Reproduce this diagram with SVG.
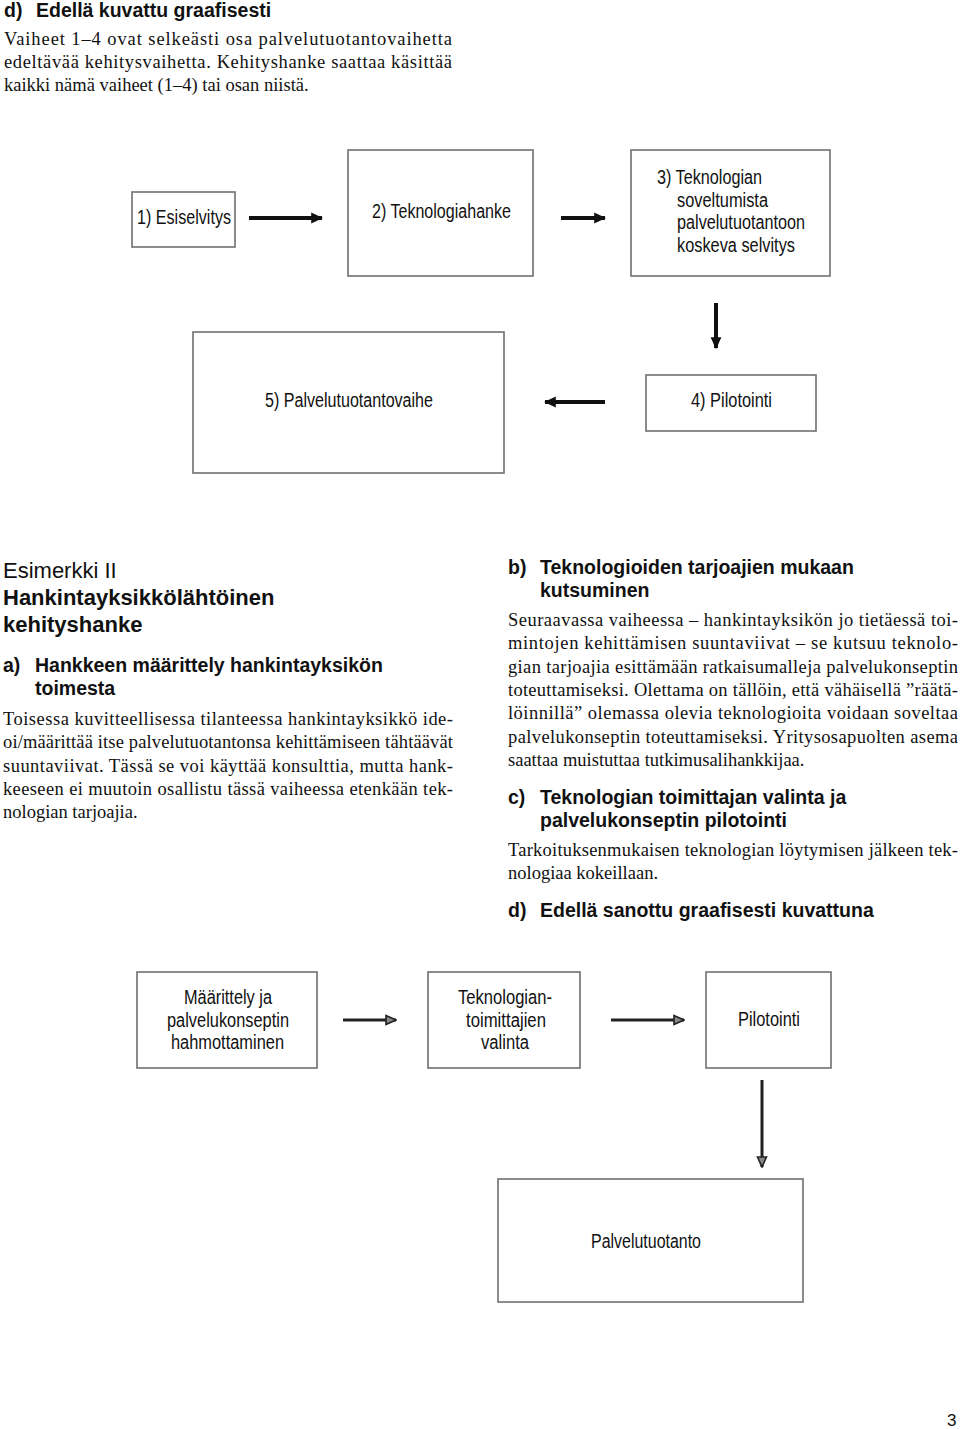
<svg xmlns="http://www.w3.org/2000/svg" width="960" height="1429" viewBox="0 0 960 1429">
<style>
.bg{fill:#fff}
.h{font-family:"Liberation Sans",Arial,sans-serif;font-weight:bold;font-size:19.5px;fill:#111}
.h2{font-family:"Liberation Sans",Arial,sans-serif;font-weight:bold;font-size:22px;fill:#111}
.h2r{font-family:"Liberation Sans",Arial,sans-serif;font-size:22px;fill:#111}
.b{font-family:"Liberation Serif","Times New Roman",serif;font-size:18.5px;fill:#111}
.lbl{font-family:"Liberation Sans Narrow","Liberation Sans",Arial,sans-serif;font-size:19.5px;fill:#111}
.box{fill:#fff;stroke:#707070;stroke-width:1.6}
.ln{stroke:#111;stroke-width:4;fill:none}
.ln2{stroke:#222;stroke-width:3;fill:none}
.pg{font-family:"Liberation Sans",Arial,sans-serif;font-size:17px;fill:#111}
</style>
<defs>
<marker id="ah" viewBox="0 0 10 10" refX="9" refY="5" markerWidth="3" markerHeight="3" orient="auto" markerUnits="strokeWidth">
<path d="M0,0.5 L10,5 L0,9.5 Z" fill="#111"/>
</marker>
<marker id="ah2" viewBox="0 0 12 12" refX="11" refY="6" markerWidth="4" markerHeight="4" orient="auto" markerUnits="strokeWidth">
<path d="M1,1.5 L11,6 L1,10.5 Z" fill="#888" stroke="#222" stroke-width="1.6"/>
</marker>
</defs>
<rect class="bg" x="0" y="0" width="960" height="1429"/>

<g id="intro">
<text class="h" x="4" y="17">d)</text>
<text class="h" x="36" y="17">Edellä kuvattu graafisesti</text>
<text class="b" x="4" y="45" textLength="448" lengthAdjust="spacing">Vaiheet 1–4 ovat selkeästi osa palvelutuotantovaihetta</text>
<text class="b" x="4" y="68" textLength="448" lengthAdjust="spacing">edeltävää kehitysvaihetta. Kehityshanke saattaa käsittää</text>
<text class="b" x="4" y="91">kaikki nämä vaiheet (1–4) tai osan niistä.</text>
</g>

<g id="connectors-top">
<line class="ln" x1="249" y1="218" x2="322" y2="218" marker-end="url(#ah)"/>
<line class="ln" x1="561" y1="218" x2="605" y2="218" marker-end="url(#ah)"/>
<line class="ln" x1="716" y1="303" x2="716" y2="348" stroke-width="3.5" marker-end="url(#ah)"/>
<line class="ln" x1="605" y1="402" x2="545" y2="402" marker-end="url(#ah)"/>
</g>

<g id="n1">
<rect class="box" x="132" y="192" width="103" height="55"/>
<text class="lbl" x="137" y="224" textLength="94" lengthAdjust="spacingAndGlyphs">1) Esiselvitys</text>
</g>
<g id="n2">
<rect class="box" x="348" y="150" width="185" height="126"/>
<text class="lbl" x="372" y="218" textLength="139" lengthAdjust="spacingAndGlyphs">2) Teknologiahanke</text>
</g>
<g id="n3">
<rect class="box" x="631" y="150" width="199" height="126"/>
<text class="lbl" x="657" y="184" textLength="105" lengthAdjust="spacingAndGlyphs">3) Teknologian</text>
<text class="lbl" x="677" y="206.5" textLength="91" lengthAdjust="spacingAndGlyphs">soveltumista</text>
<text class="lbl" x="677" y="229" textLength="128" lengthAdjust="spacingAndGlyphs">palvelutuotantoon</text>
<text class="lbl" x="677" y="251.5" textLength="118" lengthAdjust="spacingAndGlyphs">koskeva selvitys</text>
</g>
<g id="n5">
<rect class="box" x="193" y="332" width="311" height="141"/>
<text class="lbl" x="265" y="407" textLength="168" lengthAdjust="spacingAndGlyphs">5) Palvelutuotantovaihe</text>
</g>
<g id="n4">
<rect class="box" x="646" y="375" width="170" height="56"/>
<text class="lbl" x="691" y="407" textLength="81" lengthAdjust="spacingAndGlyphs">4) Pilotointi</text>
</g>

<g id="left-col">
<text class="h2r" x="3" y="578">Esimerkki II</text>
<text class="h2" x="3" y="605">Hankintayksikkölähtöinen</text>
<text class="h2" x="3" y="632">kehityshanke</text>
<text class="h" x="3" y="672">a)</text>
<text class="h" x="35" y="672">Hankkeen määrittely hankintayksikön</text>
<text class="h" x="35" y="695">toimesta</text>
<text class="b" x="3" y="725" textLength="450" lengthAdjust="spacing">Toisessa kuvitteellisessa tilanteessa hankintayksikkö ide-</text>
<text class="b" x="3" y="748.3" textLength="450" lengthAdjust="spacing">oi/määrittää itse palvelutuotantonsa kehittämiseen tähtäävät</text>
<text class="b" x="3" y="771.6" textLength="450" lengthAdjust="spacing">suuntaviivat. Tässä se voi käyttää konsulttia, mutta hank-</text>
<text class="b" x="3" y="795" textLength="450" lengthAdjust="spacing">keeseen ei muutoin osallistu tässä vaiheessa etenkään tek-</text>
<text class="b" x="3" y="818.3">nologian tarjoajia.</text>
</g>

<g id="right-col">
<text class="h" x="508" y="574">b)</text>
<text class="h" x="540" y="574">Teknologioiden tarjoajien mukaan</text>
<text class="h" x="540" y="597">kutsuminen</text>
<text class="b" x="508" y="626" textLength="450" lengthAdjust="spacing">Seuraavassa vaiheessa – hankintayksikön jo tietäessä toi-</text>
<text class="b" x="508" y="649.3" textLength="450" lengthAdjust="spacing">mintojen kehittämisen suuntaviivat – se kutsuu teknolo-</text>
<text class="b" x="508" y="672.6" textLength="450" lengthAdjust="spacing">gian tarjoajia esittämään ratkaisumalleja palvelukonseptin</text>
<text class="b" x="508" y="696" textLength="450" lengthAdjust="spacing">toteuttamiseksi. Olettama on tällöin, että vähäisellä ”räätä-</text>
<text class="b" x="508" y="719.3" textLength="450" lengthAdjust="spacing">löinnillä” olemassa olevia teknologioita voidaan soveltaa</text>
<text class="b" x="508" y="742.6" textLength="450" lengthAdjust="spacing">palvelukonseptin toteuttamiseksi. Yritysosapuolten asema</text>
<text class="b" x="508" y="766">saattaa muistuttaa tutkimusalihankkijaa.</text>
<text class="h" x="508" y="804">c)</text>
<text class="h" x="540" y="804">Teknologian toimittajan valinta ja</text>
<text class="h" x="540" y="827">palvelukonseptin pilotointi</text>
<text class="b" x="508" y="856" textLength="450" lengthAdjust="spacing">Tarkoituksenmukaisen teknologian löytymisen jälkeen tek-</text>
<text class="b" x="508" y="879.3">nologiaa kokeillaan.</text>
<text class="h" x="508" y="917">d)</text>
<text class="h" x="540" y="917">Edellä sanottu graafisesti kuvattuna</text>
</g>

<g id="connectors-bottom">
<line class="ln2" x1="343" y1="1020" x2="396" y2="1020" marker-end="url(#ah2)"/>
<line class="ln2" x1="611" y1="1020" x2="684" y2="1020" marker-end="url(#ah2)"/>
<line class="ln2" x1="762" y1="1080" x2="762" y2="1167" marker-end="url(#ah2)"/>
</g>

<g id="m1">
<rect class="box" x="137" y="972" width="180" height="96"/>
<text class="lbl" x="184" y="1004" textLength="88" lengthAdjust="spacingAndGlyphs">Määrittely ja</text>
<text class="lbl" x="167" y="1026.5" textLength="122" lengthAdjust="spacingAndGlyphs">palvelukonseptin</text>
<text class="lbl" x="171" y="1049" textLength="113" lengthAdjust="spacingAndGlyphs">hahmottaminen</text>
</g>
<g id="m2">
<rect class="box" x="428" y="972" width="152" height="96"/>
<text class="lbl" x="458" y="1004" textLength="94" lengthAdjust="spacingAndGlyphs">Teknologian-</text>
<text class="lbl" x="466" y="1026.5" textLength="80" lengthAdjust="spacingAndGlyphs">toimittajien</text>
<text class="lbl" x="481" y="1049" textLength="48" lengthAdjust="spacingAndGlyphs">valinta</text>
</g>
<g id="m3">
<rect class="box" x="706" y="972" width="125" height="96"/>
<text class="lbl" x="738" y="1026" textLength="62" lengthAdjust="spacingAndGlyphs">Pilotointi</text>
</g>
<g id="m4">
<rect class="box" x="498" y="1179" width="305" height="123"/>
<text class="lbl" x="591" y="1248" textLength="110" lengthAdjust="spacingAndGlyphs">Palvelutuotanto</text>
</g>

<text class="pg" x="947" y="1426">3</text>
</svg>
